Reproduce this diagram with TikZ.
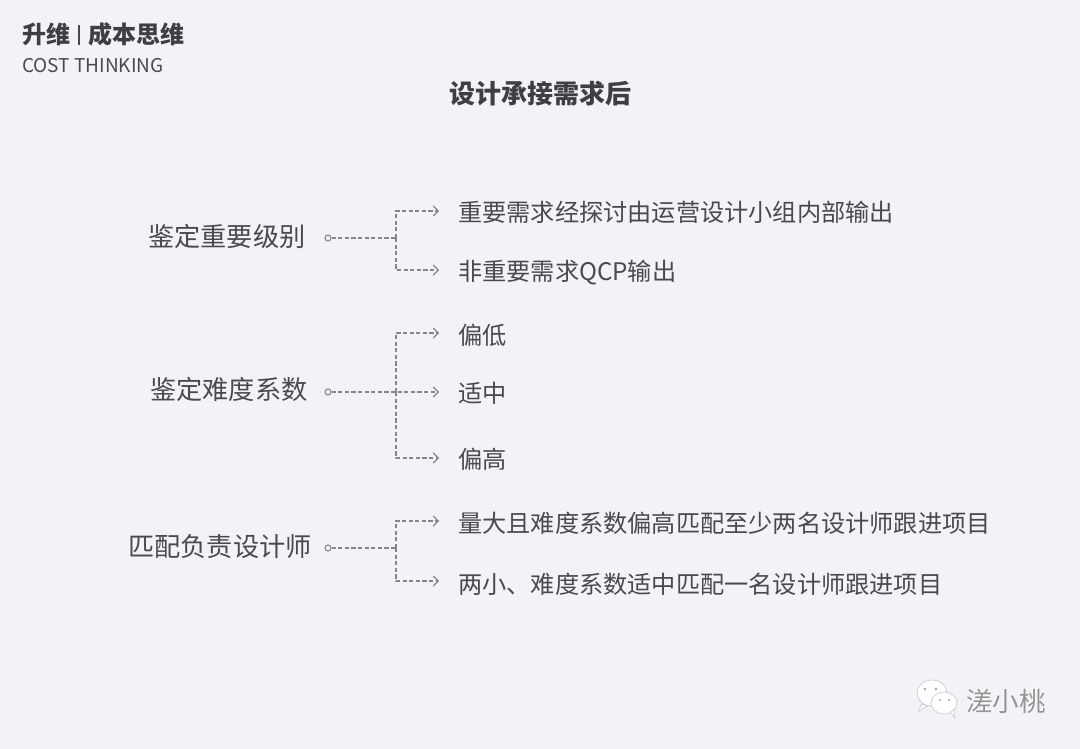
\documentclass[tikz,border=0pt]{standalone}
\usepackage{fontspec}
\setmainfont{Noto Sans CJK SC}
\newfontfamily\cjkbold[BoldFont={Noto Sans CJK SC Bold}]{Noto Sans CJK SC Medium}
\usetikzlibrary{arrows.meta}
\definecolor{bgc}{HTML}{F2F3F8}
\definecolor{txt}{HTML}{4A4A4C}
\definecolor{lnc}{HTML}{85858A}
\tikzset{
  lbl/.style={inner sep=0pt,text=txt,font=\fontsize{26.2}{28}\selectfont,anchor=west},
  opt/.style={inner sep=0pt,text=txt,font=\fontsize{24.2}{26}\selectfont,anchor=west},
  dotn/.style={circle,draw=lnc,line width=1.1pt,inner sep=0pt,minimum size=6pt,fill=none},
  dashc/.style={draw=lnc,line width=1.2pt,dash pattern=on 4.2pt off 2.4pt},
  arr/.style={dashc,-{Straight Barb[length=5pt,width=10pt,line width=1.1pt]}},
}
\begin{document}
\begin{tikzpicture}[x=1pt,y=-1pt]
\useasboundingbox (0,0) rectangle (1080,749);
\fill[bgc] (0,0) rectangle (1080,749);
% header
\node[inner sep=0pt,anchor=west,text=txt!85!black,font=\fontsize{24}{26}\selectfont\bfseries] (h1) at (22,34.5) {升维};
\draw[txt,line width=1.3pt] (79,25) -- (79,45);
\node[inner sep=0pt,anchor=west,text=txt!85!black,font=\fontsize{24}{26}\selectfont\bfseries] (h2) at (88,34.5) {成本思维};
\node[inner sep=0pt,anchor=west,text=txt,font=\fontsize{19}{22}\selectfont] (h3) at (22,65.5) {COST THINKING};
\node[inner sep=0pt,text=txt!85!black,font=\fontsize{26}{28}\selectfont\bfseries] (title) at (540,93.5) {设计承接需求后};
% group 1
\node[lbl] (a) at (148,236.5) {鉴定重要级别};
\node[dotn] (ad) at (328,238) {};
\coordinate (aj) at (396,238);
\node[opt] (a1) at (458,212) {重要需求经探讨由运营设计小组内部输出};
\node[opt] (a2) at (458,273) {非重要需求QCP输出};
\coordinate (a1e) at (439,211);
\coordinate (a2e) at (439,270);
\draw[dashc] (ad) -- (aj);
\draw[arr] (aj) -- (aj |- a1e) -- (a1e);
\draw[arr] (aj) -- (aj |- a2e) -- (a2e);
% group 2
\node[lbl] (b) at (150,389.5) {鉴定难度系数};
\node[dotn] (bd) at (328,392) {};
\coordinate (bj) at (396,392);
\node[opt] (b1) at (458,335) {偏低};
\node[opt] (b2) at (458,393) {适中};
\node[opt] (b3) at (458,459.5) {偏高};
\coordinate (b1e) at (439,333);
\coordinate (b2e) at (439,392);
\coordinate (b3e) at (439,458);
\draw[arr] (bd) -- (b2e);
\draw[arr] (bj) -- (bj |- b1e) -- (b1e);
\draw[arr] (bj) -- (bj |- b3e) -- (b3e);
% group 3
\node[lbl] (c) at (128,546.5) {匹配负责设计师};
\node[dotn] (cd) at (328,548) {};
\coordinate (cj) at (396,548);
\node[opt] (c1) at (458,523) {量大且难度系数偏高匹配至少两名设计师跟进项目};
\node[opt] (c2) at (458,584) {两小、难度系数适中匹配一名设计师跟进项目};
\coordinate (c1e) at (439,521);
\coordinate (c2e) at (439,581);
\draw[dashc] (cd) -- (cj);
\draw[arr] (cj) -- (cj |- c1e) -- (c1e);
\draw[arr] (cj) -- (cj |- c2e) -- (c2e);
% watermark
\begin{scope}[line width=0.7pt,draw=black!20,fill=white]
\filldraw (932,693) ellipse (15pt and 13pt);
\filldraw (921,704) -- (919,711) -- (928,706) -- cycle;
\fill[white] (932,693) ellipse (14pt and 12pt);
\filldraw (944,703) ellipse (13pt and 11pt);
\filldraw (950,712) -- (955,718) -- (954,710) -- cycle;
\fill[white] (944,703) ellipse (12pt and 10pt);
\end{scope}
\fill[black!35] (925,689) circle (1.3pt) (936,689) circle (1.3pt) (940,700) circle (1.2pt) (949,700) circle (1.2pt);
\node[inner sep=0pt,anchor=west,text=white,font=\fontsize{26.5}{27}\selectfont] (wms) at (965,700) {溠小桃};
\node[inner sep=0pt,anchor=west,text=black!42,font=\fontsize{26.5}{27}\selectfont] (wm) at (966,701) {溠小桃};
\end{tikzpicture}
\end{document}
